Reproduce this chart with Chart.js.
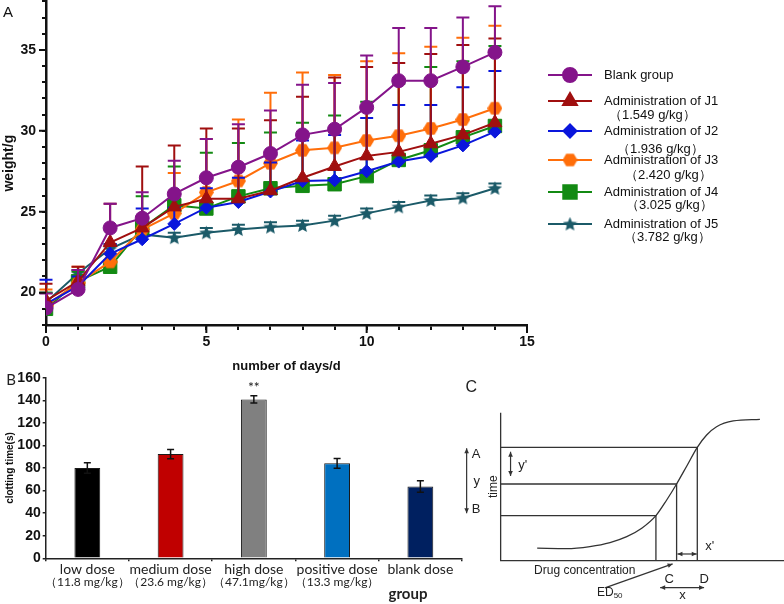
<!DOCTYPE html>
<html>
<head>
<meta charset="utf-8">
<script src="https://cdn.jsdelivr.net/npm/chart.js@4.4.1/dist/chart.umd.min.js"></script>
<style>
html,body{margin:0;padding:0;background:#fff;}
#wrap{position:relative;width:784px;height:604px;overflow:hidden;}
canvas{position:absolute;}
#cA{left:0;top:0;}
#cB{left:0;top:330px;}
#cC{left:440px;top:370px;}
</style>
</head>
<body>
<div id="wrap">
  <canvas id="cA" width="784" height="385"></canvas>
  <canvas id="cB" width="530" height="274"></canvas>
  <canvas id="cC" width="344" height="234"></canvas>
</div>
<script>
// ===== Panel A: body weight by day =====
const days = [0,1,2,3,4,5,6,7,8,9,10,11,12,13,14];
const blankMean = [19.05,20.2,24.0,24.6,26.1,27.1,27.75,28.6,29.75,30.1,31.45,33.1,33.1,33.95,34.85];
const blankSD   = [0.9,1.2,1.5,1.6,2.05,2.4,2.65,2.65,3.1,2.85,3.2,3.25,3.25,3.05,2.85];
const j1Mean = [19.5,20.7,23.1,24.0,25.3,25.8,25.8,26.3,27.1,27.8,28.45,28.7,29.2,29.75,30.5];
const j1SD   = [1.05,0.9,2.4,3.8,3.8,4.35,4.35,4.35,5.0,5.5,5.5,5.5,5.55,5.55,5.2];
const j2Mean = [19.3,20.4,22.4,23.3,24.25,25.25,25.6,26.25,26.9,26.95,27.5,28.1,28.45,29.1,29.95];
const j2SD   = [1.5,0.6,0.6,1.9,1.0,1.2,1.5,1.8,2.5,2.8,3.3,3.5,3.15,3.6,3.75];
const j3Mean = [19.2,20.6,21.9,23.9,24.9,26.2,26.9,28.0,28.8,28.95,29.4,29.7,30.15,30.7,31.4];
const j3SD   = [1.0,1.0,0.6,0.6,2.5,3.3,3.8,4.35,4.8,4.5,4.9,5.1,5.05,5.05,5.1];
const j4Mean = [19.0,20.7,21.6,24.0,25.4,25.2,25.95,26.45,26.6,26.7,27.2,28.2,28.8,29.6,30.3];
const j4SD   = [1.0,0.6,0.4,1.95,2.4,3.45,3.3,3.45,3.9,4.25,4.6,4.7,5.15,4.7,4.95];
const j5Mean = [19.4,21.2,22.7,23.6,23.4,23.7,23.9,24.05,24.15,24.45,24.9,25.3,25.7,25.85,26.45];
const j5SD   = [0.6,0.2,0.3,0.3,0.3,0.3,0.3,0.3,0.3,0.3,0.3,0.3,0.3,0.3,0.3];
const seriesNames = ['Blank group','Administration of J1','Administration of J2','Administration of J3','Administration of J4','Administration of J5'];
const seriesDoses = ['','（1.549 g/kg）','（1.936 g/kg）','（2.420 g/kg）','（3.025 g/kg）','（3.782 g/kg）'];
const yTicksA = [20,25,30,35];
const xTicksA = [0,5,10,15];

// ===== Panel B: clotting time =====
const groups = ['low dose','medium dose','high dose','positive dose','blank dose'];
const groupDoses = ['（11.8 mg/kg）','（23.6 mg/kg）','（47.1mg/kg）','（13.3 mg/kg）',''];
const clotMean = [80,92.3,140.7,84.1,63.7];
const clotSD   = [4.6,4.0,3.2,4.3,5.1];
const clotSig  = ['','','**','',''];

// ===== Panel C: schematic dose-response curve =====
const curveX = [12.9,23.3,31.5,38.6,44.5,49.8,54.8,58.6,62.1,65.7,69.4,72.7,76.2,82.1,91.5];
const curveY = [8.4,8.1,9.5,12.2,16.2,21.9,30.4,41.0,51.8,64.0,76.6,84.9,90.5,94.4,95.5];
const frameX = [0,0,100];
const frameY = [100,0,0];
const levelX = [69.4,62.1,54.8];
const levelY = [76.6,51.8,30.4];

// ===== helpers =====
const FONT = 'Liberation Sans, Arial, sans-serif';
const FONT_B = 'Lato, Liberation Sans, sans-serif';
const colorsA = ['#84148a','#a00f0f','#0a16dc','#ff6e0a','#138a13','#1b5a68'];
let offA = 0; // vertical shift of canvas A so its plot top sits at the page top

function shapeImg(kind, size, color){
  const c = document.createElement('canvas');
  c.width = c.height = size;
  const g = c.getContext('2d');
  const r = size/2;
  g.fillStyle = color;
  g.beginPath();
  if(kind === 'hex'){
    for(let k=0;k<6;k++){
      const a = Math.PI/3*k;
      const px = r + r*Math.cos(a), py = r + r*0.95*Math.sin(a);
      k ? g.lineTo(px,py) : g.moveTo(px,py);
    }
  }else{
    for(let k=0;k<10;k++){
      const a = -Math.PI/2 + Math.PI/5*k;
      const rr = k%2 ? r*0.45 : r;
      const px = r + rr*Math.cos(a), py = r + 0.5 + rr*Math.sin(a);
      k ? g.lineTo(px,py) : g.moveTo(px,py);
    }
  }
  g.closePath();
  g.fill();
  return c;
}

const markersA = [
  {style:'circle', r:7},
  {style:'triangle', r:8},
  {style:'rectRot', r:6.5},
  {style:shapeImg('hex',15,colorsA[3]), r:7},
  {style:'rect', r:9.5},
  {style:shapeImg('star',15,colorsA[5]), r:7}
];
const meansA = [blankMean,j1Mean,j2Mean,j3Mean,j4Mean,j5Mean];
const sdsA = [blankSD,j1SD,j2SD,j3SD,j4SD,j5SD];

// error bars (upper only), drawn under each series' own markers
const errBarsA = {
  id:'errBarsA',
  beforeDatasetDraw(chart, args){
    const ds = chart.data.datasets[args.index];
    const y = chart.scales.y;
    const ctx = chart.ctx;
    ctx.save();
    ctx.strokeStyle = ds.borderColor;
    ctx.lineWidth = 2;
    args.meta.data.forEach((pt,i)=>{
      const top = y.getPixelForValue(ds.data[i].y + ds.sd[i]);
      ctx.beginPath();
      ctx.moveTo(pt.x, pt.y); ctx.lineTo(pt.x, top);
      ctx.moveTo(pt.x-6.5, top); ctx.lineTo(pt.x+6.5, top);
      ctx.stroke();
    });
    ctx.restore();
  }
};

// longer tick marks on the labelled values
const majorTicksA = {
  id:'majorTicksA',
  afterDraw(chart){
    const {ctx, chartArea, scales:{x, y}} = chart;
    ctx.save();
    ctx.strokeStyle = '#111';
    ctx.lineWidth = 2;
    ctx.beginPath();
    xTicksA.forEach(v=>{
      const px = x.getPixelForValue(v);
      ctx.moveTo(px, chartArea.bottom); ctx.lineTo(px, chartArea.bottom + 8);
    });
    yTicksA.forEach(v=>{
      const py = y.getPixelForValue(v);
      ctx.moveTo(chartArea.left, py); ctx.lineTo(chartArea.left - 7, py);
    });
    ctx.stroke();
    ctx.restore();
  }
};

// legend at the right + panel letter (page coordinates, corrected by offA)
const legendRows = [
  {y:75},
  {y:101, y2:115, x2:609},
  {y:131, y2:149, x2:617},
  {y:160, y2:175, x2:625},
  {y:192, y2:205, x2:626},
  {y:224, y2:237, x2:624}
];
const legendA = {
  id:'legendA',
  afterDraw(chart){
    const ctx = chart.ctx;
    ctx.save();
    ctx.translate(0, -offA);
    chart.data.datasets.forEach((ds,k)=>{
      const row = legendRows[k];
      ctx.strokeStyle = ds.borderColor;
      ctx.fillStyle = ds.borderColor;
      ctx.lineWidth = 2;
      ctx.beginPath(); ctx.moveTo(548,row.y); ctx.lineTo(592,row.y); ctx.stroke();
      Chart.helpers.drawPoint(ctx, {pointStyle:ds.pointStyle, radius:ds.pointRadius, rotation:0, borderWidth:1}, 570, row.y);
      ctx.fillStyle = '#111';
      ctx.font = '13px ' + FONT;
      ctx.textBaseline = 'middle';
      ctx.textAlign = 'left';
      ctx.fillText(seriesNames[k], 604, row.y);
      if(seriesDoses[k]) ctx.fillText(seriesDoses[k], row.x2, row.y2);
    });
    ctx.font = '15px ' + FONT;
    ctx.fillText('A', 3, 13);
    ctx.restore();
  }
};

const boldA = {family:FONT, size:14, weight:'bold'};
const chartA = new Chart(document.getElementById('cA'), {
  type:'line',
  data:{
    datasets: meansA.map((m,k)=>({
      label: seriesNames[k],
      data: days.map((d,i)=>({x:d, y:m[i]})),
      sd: sdsA[k],
      borderColor: colorsA[k],
      backgroundColor: colorsA[k],
      pointBackgroundColor: colorsA[k],
      pointBorderColor: colorsA[k],
      pointBorderWidth: 1,
      borderWidth: 2,
      pointStyle: markersA[k].style,
      pointRadius: markersA[k].r,
      tension: 0
    }))
  },
  options:{
    responsive:false, maintainAspectRatio:false, animation:false,
    layout:{padding:{left:0, top:0, right:257, bottom:0}},
    plugins:{legend:{display:false}, tooltip:{enabled:false}},
    scales:{
      x:{
        type:'linear', min:0, max:15,
        ticks:{stepSize:1, autoSkip:false, maxRotation:0, padding:3.5, color:'#111',
          font:boldA,
          callback:v => xTicksA.includes(Math.round(v)) ? Math.round(v) : ''},
        grid:{drawOnChartArea:false, tickLength:5, color:'#111', lineWidth:2},
        border:{color:'#111', width:2.5},
        title:{display:true, text:'number of days/d', color:'#111',
          font:{family:FONT, size:13, weight:'bold'}, padding:{top:10.5, bottom:10.5}},
        afterFit(s){ s.height = 60; }
      },
      y:{
        min:18, max:38,
        ticks:{stepSize:1, autoSkip:false, padding:6, color:'#111',
          font:boldA,
          callback:v => yTicksA.includes(Math.round(v)) ? Math.round(v) : ''},
        grid:{drawOnChartArea:false, tickLength:4, color:'#111', lineWidth:2},
        border:{color:'#111', width:2.5},
        title:{display:true, text:'weight/g', color:'#111',
          font:{family:FONT, size:14, weight:'bold'}, padding:{top:1, bottom:1}},
        afterFit(s){ s.width = 46; }
      }
    }
  },
  plugins:[errBarsA, majorTicksA, legendA]
});
// shift canvas so the plot area spans page y 1.4 .. 325
offA = 1.4 - chartA.chartArea.top;
document.getElementById('cA').style.top = offA + 'px';
chartA.resize(784, Math.round(385 - offA));

// ===== Panel B =====
const barColors = ['#000000','#c00000','#808080','#0070c0','#002060'];
const extrasB = {
  id:'extrasB',
  afterDatasetsDraw(chart){
    const ctx = chart.ctx;
    const x = chart.scales.x, y = chart.scales.y;
    ctx.save();
    ctx.strokeStyle = '#111';
    ctx.lineWidth = 1.5;
    chart.getDatasetMeta(0).data.forEach((bar,i)=>{
      const hi = y.getPixelForValue(clotMean[i] + clotSD[i]);
      const lo = y.getPixelForValue(clotMean[i] - clotSD[i]);
      ctx.beginPath();
      ctx.moveTo(bar.x, lo); ctx.lineTo(bar.x, hi);
      ctx.moveTo(bar.x-3.5, lo); ctx.lineTo(bar.x+3.5, lo);
      ctx.moveTo(bar.x-3.5, hi); ctx.lineTo(bar.x+3.5, hi);
      ctx.stroke();
      ctx.fillStyle = '#222';
      ctx.textAlign = 'center';
      ctx.textBaseline = 'middle';
      if(clotSig[i]){
        ctx.font = '14px ' + FONT_B;
        ctx.fillText(clotSig[i], bar.x, hi - 8);
      }
      if(groupDoses[i]){
        ctx.font = '12px ' + FONT_B;
        ctx.fillText(groupDoses[i], x.getPixelForValue(i), 252);
      }
    });
    ctx.fillStyle = '#222';
    ctx.font = 'bold 15px ' + FONT_B;
    ctx.textAlign = 'center';
    ctx.fillText('group', 408, 264);
    ctx.font = '15px ' + FONT_B;
    ctx.fillText('B', 11, 50);
    ctx.restore();
  }
};

new Chart(document.getElementById('cB'), {
  type:'bar',
  data:{
    labels: groups,
    datasets:[{
      data: clotMean,
      backgroundColor: barColors,
      borderColor: '#1a1a1a',
      borderWidth: 1,
      categoryPercentage: 1,
      barPercentage: 0.31
    }]
  },
  options:{
    responsive:false, animation:false,
    layout:{padding:{left:0, top:47.7, right:68, bottom:0}},
    plugins:{legend:{display:false}, tooltip:{enabled:false}},
    scales:{
      x:{
        ticks:{autoSkip:false, maxRotation:0, padding:0, color:'#222', font:{family:FONT_B, size:14}},
        grid:{drawOnChartArea:false, tickLength:3, color:'#222', lineWidth:1.5},
        border:{color:'#222', width:1.5},
        afterFit(s){ s.height = 45.7; }
      },
      y:{
        min:0, max:160,
        ticks:{stepSize:20, padding:2, color:'#111',
          font:{family:'Liberation Sans Narrow, Liberation Sans, sans-serif', size:14, weight:'bold'}},
        grid:{drawOnChartArea:false, tickLength:3, color:'#222', lineWidth:1.5},
        border:{color:'#222', width:1.5},
        title:{display:true, text:'clotting time(s)', color:'#111',
          font:{family:FONT, size:10, weight:'bold'}, padding:{top:4, bottom:4}},
        afterFit(s){ s.width = 45.7; }
      }
    }
  },
  plugins:[extrasB]
});

// ===== Panel C =====
const arrowsC = [
  {x1:-12, y1:32, x2:-12, y2:75.9, both:true},
  {x1:3.5, y1:57.2, x2:3.5, y2:73.6, both:true},
  {x1:62.4, y1:4.5, x2:69.2, y2:4.5, both:true},
  {x1:56.3, y1:-18.2, x2:71.8, y2:-18.2, both:true},
  {x1:36.8, y1:-18.4, x2:60.7, y2:-2.2, both:false}
];
const textsC = [
  {t:'A', x:-10.2, y:72, size:13},
  {t:'y', x:-9.6, y:53.8, size:13},
  {t:'B', x:-10.2, y:34.3, size:13},
  {t:"y'", x:6.2, y:64.5, size:13},
  {t:"x'", x:72.2, y:9.3, size:13},
  {t:'Drug concentration', x:11.8, y:-6.8, size:12},
  {t:'C', x:57.8, y:-12.4, size:13},
  {t:'D', x:70.2, y:-12.4, size:13},
  {t:'x', x:63, y:-23.5, size:13},
  {t:'C', x:-12.4, y:117, size:16}
];
const extrasC = {
  id:'extrasC',
  afterDraw(chart){
    const ctx = chart.ctx;
    const sx = chart.scales.x, sy = chart.scales.y;
    const P = (x,y) => [sx.getPixelForValue(x), sy.getPixelForValue(y)];
    ctx.save();
    ctx.strokeStyle = '#333'; ctx.fillStyle = '#333'; ctx.lineWidth = 1.2;
    const head = (x,y,ang) => {
      ctx.beginPath();
      ctx.moveTo(x,y);
      ctx.lineTo(x - 5*Math.cos(ang) + 2.3*Math.sin(ang), y - 5*Math.sin(ang) - 2.3*Math.cos(ang));
      ctx.lineTo(x - 5*Math.cos(ang) - 2.3*Math.sin(ang), y - 5*Math.sin(ang) + 2.3*Math.cos(ang));
      ctx.closePath(); ctx.fill();
    };
    arrowsC.forEach(a=>{
      const [x1,y1] = P(a.x1,a.y1), [x2,y2] = P(a.x2,a.y2);
      const ang = Math.atan2(y2-y1, x2-x1);
      ctx.beginPath(); ctx.moveTo(x1,y1); ctx.lineTo(x2,y2); ctx.stroke();
      head(x2,y2,ang);
      if(a.both) head(x1,y1,ang+Math.PI);
    });
    ctx.fillStyle = '#222';
    ctx.textBaseline = 'middle';
    ctx.textAlign = 'left';
    textsC.forEach(t=>{
      const [x,y] = P(t.x,t.y);
      ctx.font = t.size + 'px ' + FONT;
      ctx.fillText(t.t, x, y);
    });
    // ED50 with subscript
    const [ex,ey] = P(34,-21.9);
    ctx.font = '12px ' + FONT;
    ctx.fillText('ED', ex, ey);
    const w = ctx.measureText('ED').width;
    ctx.font = '8px ' + FONT;
    ctx.fillText('50', ex + w, ey + 3);
    // rotated axis label
    const [tx,ty] = P(-2.6,50);
    ctx.translate(tx,ty); ctx.rotate(-Math.PI/2);
    ctx.textAlign = 'center';
    ctx.font = '12px ' + FONT;
    ctx.fillText('time', 0, 0);
    ctx.restore();
  }
};

const lineStyle = {borderColor:'#333', borderWidth:1.3, pointRadius:0, showLine:true, fill:false};
new Chart(document.getElementById('cC'), {
  type:'scatter',
  data:{
    datasets:[
      Object.assign({data: frameX.map((x,i)=>({x, y:frameY[i]})), tension:0}, lineStyle),
      Object.assign({data: curveX.map((x,i)=>({x, y:curveY[i]})), tension:0.4, cubicInterpolationMode:'monotone'}, lineStyle),
      ...levelY.map((lv,k)=>Object.assign({data:[{x:0,y:lv},{x:levelX[k],y:lv},{x:levelX[k],y:0}], tension:0}, lineStyle))
    ]
  },
  options:{
    responsive:false, animation:false,
    layout:{padding:0},
    plugins:{legend:{display:false}, tooltip:{enabled:false}},
    scales:{
      x:{type:'linear', display:false, min:-21.4, max:100},
      y:{type:'linear', display:false, min:-29.3, max:128.85}
    }
  },
  plugins:[extrasC]
});
</script>
</body>
</html>
